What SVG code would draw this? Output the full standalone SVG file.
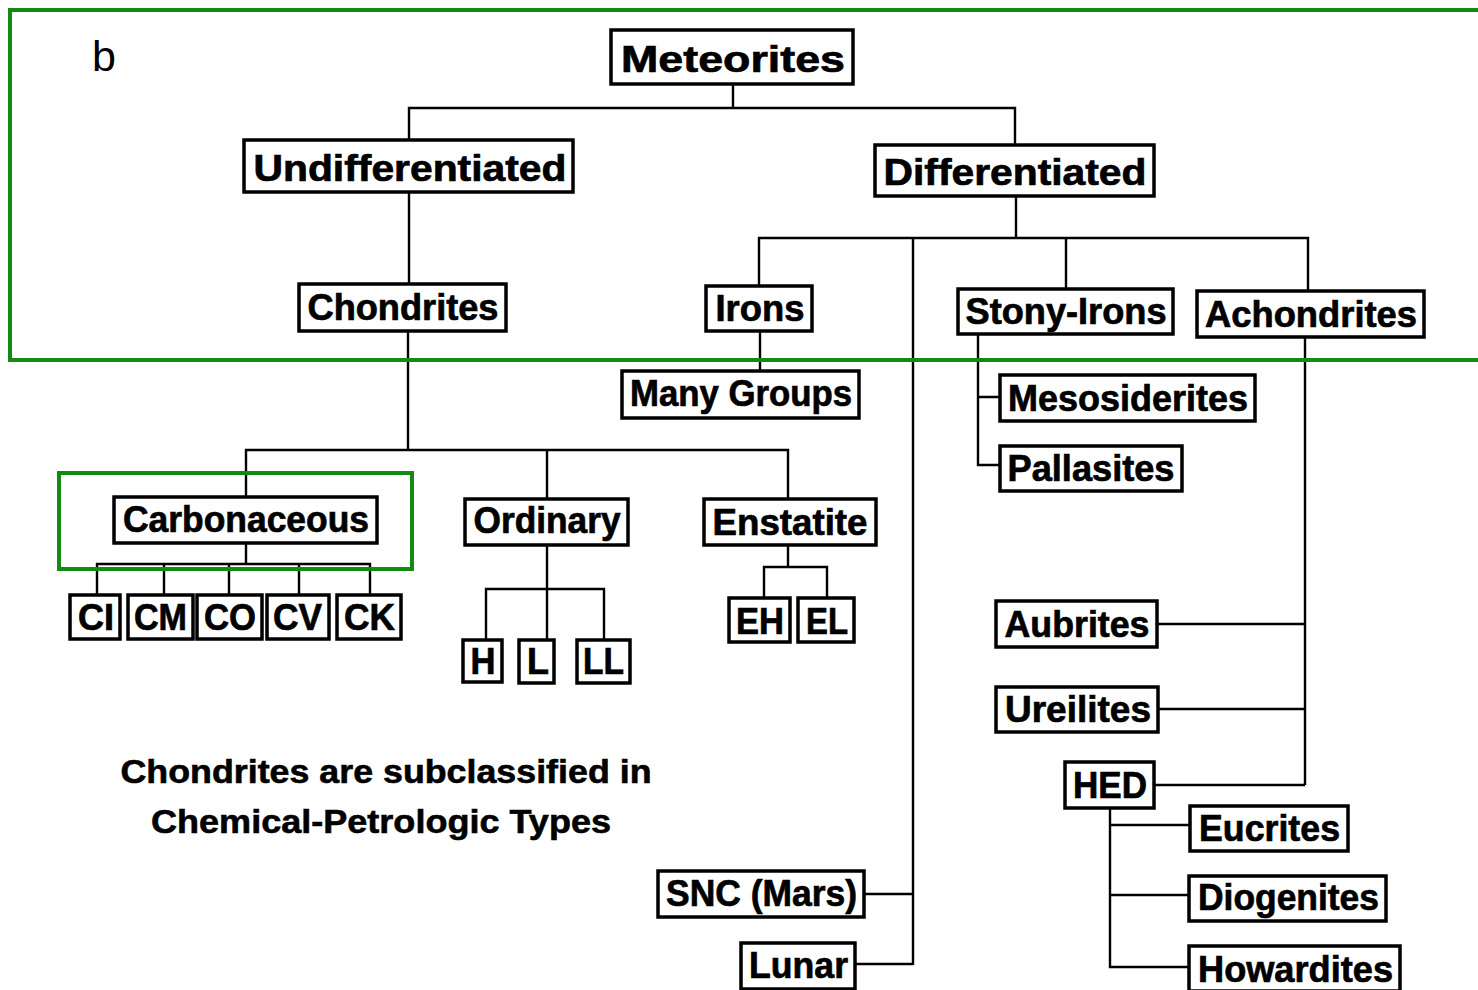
<svg xmlns="http://www.w3.org/2000/svg" width="1478" height="990" viewBox="0 0 1478 990">
<style>
.b rect{fill:#fff;stroke:#000;stroke-width:3.5}
.b text{font-family:"Liberation Sans",Arial,sans-serif;font-weight:bold;fill:#000;stroke:#000;stroke-width:0.7;text-anchor:middle;font-size:37px}
.c path{fill:none;stroke:#000;stroke-width:2.4}
.g{fill:none;stroke:#138a13;stroke-width:4}
.cap{font-family:"Liberation Sans",Arial,sans-serif;font-weight:bold;font-size:33px;fill:#000;stroke:#000;stroke-width:0.6;text-anchor:middle}
</style>
<rect width="1478" height="990" fill="#fff"/>
<g id="connectors" class="c">
<path d="M733,84 V108 M409,140 V108 H1015 V145"/>
<path d="M409,192 V284"/>
<path d="M1016,196 V238 M759,286 V238 H1308 V291 M1066,238 V289"/>
<path d="M913,238 V965 M864,894 H913 M855,964 H913"/>
<path d="M760,331 V371"/>
<path d="M978,334 V465 H1000 M978,397 H1000"/>
<path d="M1305,337 V785 M1157,624 H1305 M1158,709 H1305 M1154,785 H1305"/>
<path d="M1110,808 V967 H1189 M1110,825 H1190 M1110,895 H1189"/>
<path d="M408,331 V450 M246,497 V450 H788 V499 M547,450 V499"/>
<path d="M246,543 V564 M97,595 V564 H370 V595 M164,564 V595 M229,564 V595 M299,564 V595"/>
<path d="M547,545 V640 M486,640 V589 H604 V640"/>
<path d="M788,545 V567 M764,598 V567 H827 V598"/>
</g>
<g id="n-meteorites" class="b"><rect x="611" y="30" width="242" height="54"/><text x="733" y="72" font-size="45" textLength="224" lengthAdjust="spacingAndGlyphs">Meteorites</text></g>
<g id="n-undifferentiated" class="b"><rect x="244" y="140" width="329" height="52"/><text x="410" y="181" font-size="42" textLength="313" lengthAdjust="spacingAndGlyphs">Undifferentiated</text></g>
<g id="n-differentiated" class="b"><rect x="875" y="145" width="279" height="51"/><text x="1015" y="185" font-size="42" textLength="263" lengthAdjust="spacingAndGlyphs">Differentiated</text></g>
<g id="n-chondrites" class="b"><rect x="299" y="284" width="207" height="47"/><text x="403" y="320" textLength="191" lengthAdjust="spacingAndGlyphs">Chondrites</text></g>
<g id="n-irons" class="b"><rect x="706" y="286" width="106" height="45"/><text x="760" y="321" textLength="89" lengthAdjust="spacingAndGlyphs">Irons</text></g>
<g id="n-stony-irons" class="b"><rect x="958" y="289" width="215" height="45"/><text x="1066" y="324" textLength="201" lengthAdjust="spacingAndGlyphs">Stony-Irons</text></g>
<g id="n-achondrites" class="b"><rect x="1197" y="291" width="227" height="46"/><text x="1311" y="327" textLength="212" lengthAdjust="spacingAndGlyphs">Achondrites</text></g>
<g id="n-many-groups" class="b"><rect x="622" y="371" width="237" height="47"/><text x="741" y="406" textLength="222" lengthAdjust="spacingAndGlyphs">Many Groups</text></g>
<g id="n-mesosiderites" class="b"><rect x="1000" y="375" width="255" height="46"/><text x="1128" y="411" textLength="240" lengthAdjust="spacingAndGlyphs">Mesosiderites</text></g>
<g id="n-pallasites" class="b"><rect x="1000" y="446" width="182" height="45"/><text x="1091" y="481" textLength="167" lengthAdjust="spacingAndGlyphs">Pallasites</text></g>
<g id="n-carbonaceous" class="b"><rect x="114" y="497" width="263" height="46"/><text x="246" y="532" textLength="246" lengthAdjust="spacingAndGlyphs">Carbonaceous</text></g>
<g id="n-ordinary" class="b"><rect x="465" y="499" width="163" height="46"/><text x="547" y="533" textLength="147" lengthAdjust="spacingAndGlyphs">Ordinary</text></g>
<g id="n-enstatite" class="b"><rect x="704" y="499" width="172" height="46"/><text x="790" y="535" textLength="155" lengthAdjust="spacingAndGlyphs">Enstatite</text></g>
<g id="n-ci" class="b"><rect x="70" y="595" width="50" height="44"/><text x="96" y="630" textLength="36" lengthAdjust="spacingAndGlyphs">CI</text></g>
<g id="n-cm" class="b"><rect x="128" y="595" width="65" height="44"/><text x="160.5" y="630" textLength="53" lengthAdjust="spacingAndGlyphs">CM</text></g>
<g id="n-co" class="b"><rect x="197" y="595" width="65" height="44"/><text x="230" y="630" textLength="52" lengthAdjust="spacingAndGlyphs">CO</text></g>
<g id="n-cv" class="b"><rect x="267" y="595" width="62" height="44"/><text x="297.5" y="630" textLength="49" lengthAdjust="spacingAndGlyphs">CV</text></g>
<g id="n-ck" class="b"><rect x="337" y="595" width="64" height="44"/><text x="369.5" y="630" textLength="51" lengthAdjust="spacingAndGlyphs">CK</text></g>
<g id="n-h" class="b"><rect x="463" y="640" width="39" height="42"/><text x="483" y="674" textLength="25" lengthAdjust="spacingAndGlyphs">H</text></g>
<g id="n-l" class="b"><rect x="519" y="640" width="35" height="43"/><text x="538" y="674" textLength="22" lengthAdjust="spacingAndGlyphs">L</text></g>
<g id="n-ll" class="b"><rect x="577" y="640" width="53" height="43"/><text x="603.5" y="674" textLength="41" lengthAdjust="spacingAndGlyphs">LL</text></g>
<g id="n-eh" class="b"><rect x="729" y="598" width="61" height="44"/><text x="760" y="634" textLength="48" lengthAdjust="spacingAndGlyphs">EH</text></g>
<g id="n-el" class="b"><rect x="798" y="598" width="56" height="44"/><text x="827" y="634" textLength="42" lengthAdjust="spacingAndGlyphs">EL</text></g>
<g id="n-aubrites" class="b"><rect x="996" y="601" width="161" height="46"/><text x="1077" y="637" textLength="145" lengthAdjust="spacingAndGlyphs">Aubrites</text></g>
<g id="n-ureilites" class="b"><rect x="996" y="687" width="162" height="45"/><text x="1078" y="722" textLength="146" lengthAdjust="spacingAndGlyphs">Ureilites</text></g>
<g id="n-hed" class="b"><rect x="1065" y="762" width="89" height="46"/><text x="1110" y="798" textLength="74" lengthAdjust="spacingAndGlyphs">HED</text></g>
<g id="n-eucrites" class="b"><rect x="1190" y="806" width="158" height="45"/><text x="1269.5" y="841" textLength="141" lengthAdjust="spacingAndGlyphs">Eucrites</text></g>
<g id="n-diogenites" class="b"><rect x="1189" y="876" width="197" height="45"/><text x="1288.5" y="910" textLength="181" lengthAdjust="spacingAndGlyphs">Diogenites</text></g>
<g id="n-howardites" class="b"><rect x="1189" y="946" width="211" height="45"/><text x="1295.5" y="982" textLength="195" lengthAdjust="spacingAndGlyphs">Howardites</text></g>
<g id="n-snc" class="b"><rect x="658" y="871" width="206" height="46"/><text x="761.5" y="906" textLength="191" lengthAdjust="spacingAndGlyphs">SNC (Mars)</text></g>
<g id="n-lunar" class="b"><rect x="741" y="943" width="114" height="46"/><text x="798.5" y="978" textLength="99" lengthAdjust="spacingAndGlyphs">Lunar</text></g>
<g id="caption">
<text class="cap" x="386" y="783" textLength="531" lengthAdjust="spacingAndGlyphs">Chondrites are subclassified in</text>
<text class="cap" x="381" y="833" textLength="460" lengthAdjust="spacingAndGlyphs">Chemical-Petrologic Types</text>
</g>
<text id="label-b" x="92" y="71" font-family="Liberation Sans,Arial,sans-serif" font-size="43" fill="#000">b</text>
<g id="highlights">
<rect class="g" x="10" y="10" width="1475" height="350"/>
<rect class="g" x="59" y="473" width="353" height="96"/>
</g>
</svg>
